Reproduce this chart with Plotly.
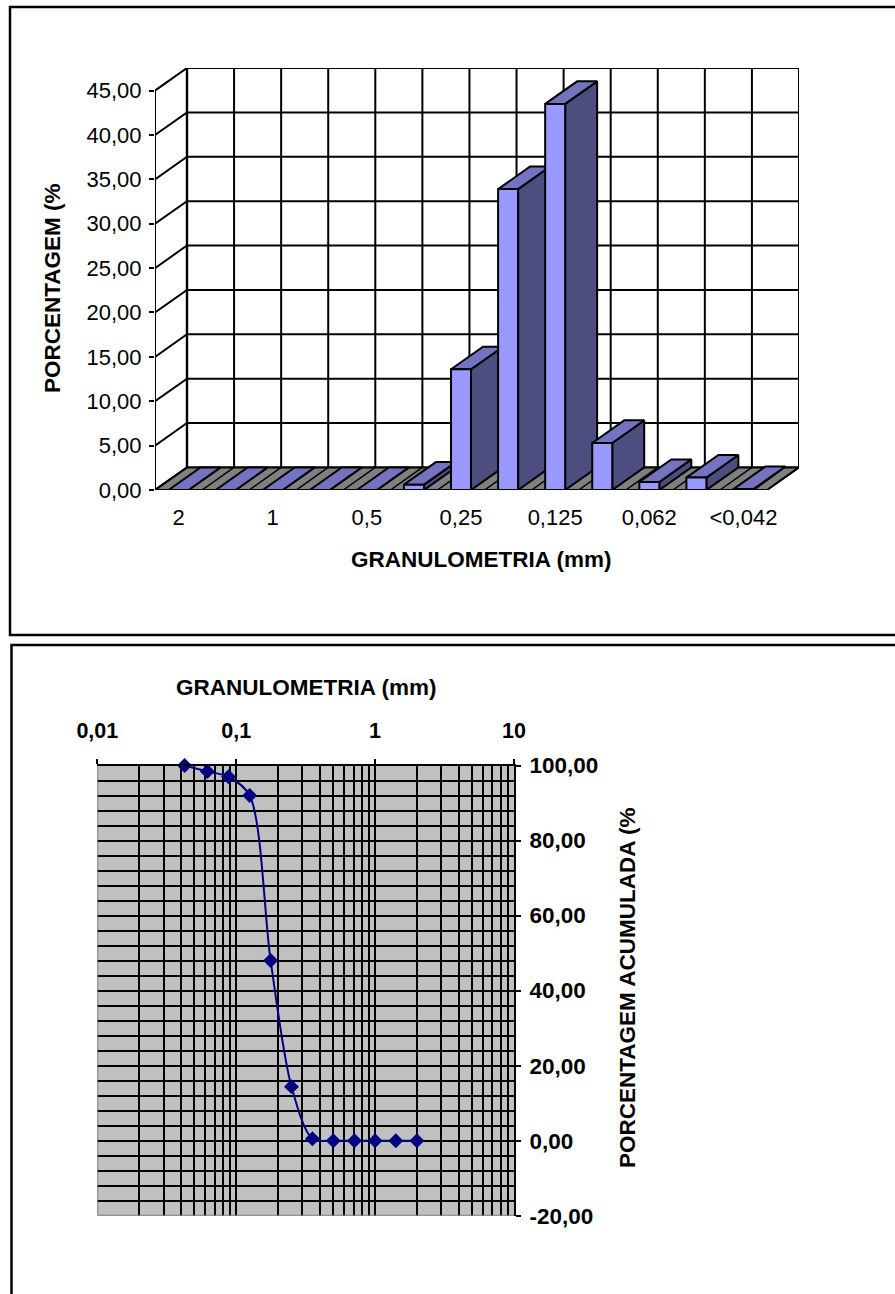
import plotly.graph_objects as go

# ---- data: upper chart (13 sieve classes, every second one labelled)
bar_values = [0.0, 0.0, 0.0, 0.0, 0.0, 0.6, 13.6, 33.9, 43.5, 5.3, 0.9, 1.4, 0.1]
bar_label_pos = [0.5, 2.5, 4.5, 6.5, 8.5, 10.5, 12.5]
bar_labels = ["2", "1", "0,5", "0,25", "0,125", "0,062", "<0,042"]
bar_y_ticks = [0, 5, 10, 15, 20, 25, 30, 35, 40, 45]
bar_y_labels = ["0,00", "5,00", "10,00", "15,00", "20,00", "25,00", "30,00", "35,00", "40,00", "45,00"]

# ---- data: lower chart
curve_x = [0.0425, 0.062, 0.088, 0.125, 0.177, 0.25, 0.354, 0.5, 0.71, 1.0, 1.41, 2.0]
curve_y = [100.0, 98.4, 97.0, 92.0, 48.0, 14.4, 0.5, 0.0, 0.0, 0.0, 0.0, 0.0]
curve_x_ticks = [0.01, 0.1, 1, 10]
curve_x_labels = ["0,01", "0,1", "1", "10"]
curve_y_ticks = [-20, 0, 20, 40, 60, 80, 100]
curve_y_labels = ["-20,00", "0,00", "20,00", "40,00", "60,00", "80,00", "100,00"]

W, H = 895, 1294
FONT = "Liberation Sans"
FRONT, TOP, SIDE = "#9999FF", "#7373BF", "#4D4D80"
n_cat = len(bar_values)

# pseudo-3D projection expressed in data units of the upper chart
DEPTH_X = 32 / 47.1
DEPTH_Y = 22.5 / 8.84
BAR_W = 20 / 47.1
X_MAX = n_cat + DEPTH_X
Y_MAX = 45 + DEPTH_Y

fig = go.Figure()


def fx(px):
    return px / W


def fy(py):
    return 1 - py / H


def poly(xs, ys, fill, width=2):
    fig.add_trace(go.Scatter(x=xs, y=ys, mode="lines", fill="toself", fillcolor=fill,
                             line=dict(color="black", width=width), hoverinfo="skip",
                             showlegend=False, cliponaxis=False, xaxis="x", yaxis="y"))


def seg(xs, ys, width=2):
    fig.add_trace(go.Scatter(x=xs, y=ys, mode="lines", line=dict(color="black", width=width),
                             hoverinfo="skip", showlegend=False, cliponaxis=False,
                             xaxis="x", yaxis="y"))


# back wall and side wall grid
for t in bar_y_ticks:
    seg([0, DEPTH_X, X_MAX], [t, t + DEPTH_Y, t + DEPTH_Y])
for i in range(n_cat + 1):
    seg([i + DEPTH_X, i + DEPTH_X], [DEPTH_Y, 45 + DEPTH_Y])
seg([0, 0], [0, 45])
seg([DEPTH_X, DEPTH_X], [DEPTH_Y, 45 + DEPTH_Y], 2.4)

# floor
poly([0, n_cat, X_MAX, DEPTH_X, 0], [0, 0, DEPTH_Y, DEPTH_Y, 0], "#808080")
for i in range(n_cat + 1):
    seg([i, i + DEPTH_X], [0, DEPTH_Y], 1.5)

# bars
for i, v in enumerate(bar_values):
    x0 = i + 0.5 - BAR_W / 2
    x1 = x0 + BAR_W
    poly([x1, x1 + DEPTH_X, x1 + DEPTH_X, x1, x1], [0, DEPTH_Y, v + DEPTH_Y, v, 0], SIDE)
    poly([x0, x1, x1 + DEPTH_X, x0 + DEPTH_X, x0], [v, v, v + DEPTH_Y, v + DEPTH_Y, v], TOP)
    poly([x0, x1, x1, x0, x0], [0, 0, v, v, 0], FRONT)
seg([0, n_cat], [0, 0], 2.2)

# lower chart
fig.add_trace(go.Scatter(x=[0.01, 0.01, 10], y=[100, -20, -20], mode="lines",
                         line=dict(color="#808080", width=2), hoverinfo="skip", showlegend=False,
                         cliponaxis=False, xaxis="x2", yaxis="y2"))
fig.add_trace(go.Scatter(x=curve_x, y=curve_y, mode="lines+markers",
                         line=dict(color="#000080", width=2, shape="spline", smoothing=0.85),
                         marker=dict(symbol="diamond", size=11.5, color="#000080"),
                         showlegend=False, cliponaxis=False, xaxis="x2", yaxis="y2"))

minor_x = [m * d for d in (0.01, 0.1, 1) for m in range(2, 10)]

shapes = [
    dict(type="rect", xref="paper", yref="paper", x0=fx(10), x1=fx(905), y0=fy(635), y1=fy(7),
         line=dict(color="black", width=2.5), layer="below"),
    dict(type="rect", xref="paper", yref="paper", x0=fx(11.5), x1=fx(905), y0=fy(1305), y1=fy(645),
         line=dict(color="black", width=2.5), layer="below"),
]


def note(text, x, y, size, angle=0, bold=True):
    return dict(text=f"<b>{text}</b>" if bold else text, xref="paper", yref="paper",
                x=fx(x), y=fy(y), xanchor="center", yanchor="middle", showarrow=False,
                textangle=angle, font=dict(family=FONT, size=size, color="black"))


annotations = [
    note("GRANULOMETRIA (mm)", 481, 559, 22.5),
    note("PORCENTAGEM (%", 53, 288, 22.5, -90),
    note("GRANULOMETRIA (mm)", 306, 687, 22.5),
    note("PORCENTAGEM ACUMULADA (%", 627, 988, 22.5, -90),
]

fig.update_layout(
    width=W, height=H, autosize=False, margin=dict(l=0, r=0, t=0, b=0, autoexpand=False),
    paper_bgcolor="white", plot_bgcolor="white", showlegend=False, hovermode=False,
    shapes=shapes, annotations=annotations,
    xaxis=dict(domain=[fx(155), fx(799)], range=[0, X_MAX], anchor="y", automargin=False,
               tickmode="array", tickvals=bar_label_pos, ticktext=bar_labels,
               ticks="", showgrid=False, zeroline=False, showline=False, ticklabelstandoff=12,
               tickfont=dict(family=FONT, size=22, color="black")),
    yaxis=dict(domain=[fy(490), fy(68)], range=[0, Y_MAX], anchor="x", automargin=False,
               tickmode="array", tickvals=bar_y_ticks, ticktext=bar_y_labels,
               ticks="outside", ticklen=5, tickwidth=1.7, tickcolor="black",
               showgrid=False, zeroline=False, showline=False, ticklabelstandoff=3,
               tickfont=dict(family=FONT, size=22, color="black")),
    xaxis2=dict(domain=[fx(97.3), fx(514)], type="log", range=[-2, 1], anchor="y2", side="top",
                automargin=False,
                tickmode="array", tickvals=curve_x_ticks, ticktext=curve_x_labels,
                ticks="outside", ticklen=5, tickwidth=2, tickcolor="black",
                showline=True, linecolor="black", linewidth=2,
                showgrid=True, gridcolor="black", gridwidth=2, zeroline=False,
                ticklabelstandoff=12,
                minor=dict(tickmode="array", tickvals=minor_x, showgrid=True,
                           gridcolor="black", gridwidth=2, ticks=""),
                tickfont=dict(family=FONT, size=21.5, color="black", weight="bold")),
    yaxis2=dict(domain=[fy(1215.7), fy(765.5)], range=[-20, 100], anchor="x2", side="right",
                automargin=False,
                tickmode="array", tickvals=curve_y_ticks, ticktext=curve_y_labels,
                ticks="outside", ticklen=5, tickwidth=2, tickcolor="black",
                showline=True, linecolor="black", linewidth=2,
                showgrid=True, gridcolor="black", gridwidth=2, zeroline=False,
                ticklabelstandoff=4,
                minor=dict(dtick=4, tick0=-20, showgrid=True, gridcolor="black",
                           gridwidth=2, ticks=""),
                tickfont=dict(family=FONT, size=22.5, color="black", weight="bold")),
)
# grey plot panel of the lower chart
fig.add_shape(type="rect", xref="x2 domain", yref="y2 domain", x0=0, x1=1, y0=0, y1=1,
              fillcolor="#C0C0C0", line_width=0, layer="below")

fig.write_html("out.html", config=dict(displayModeBar=False),
               post_script="document.body.style.margin='0';")
